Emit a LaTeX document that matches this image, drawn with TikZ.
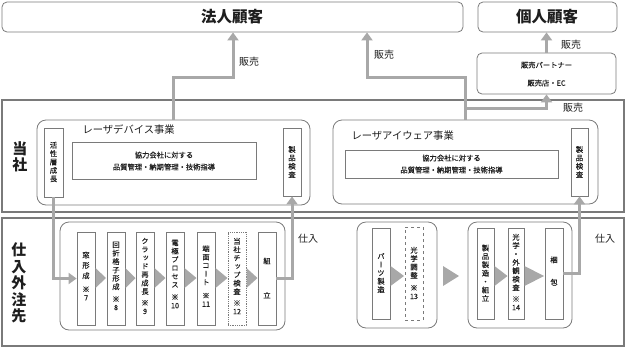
\documentclass[tikz,border=0pt]{standalone}
\usepackage{fontspec}
\setmainfont{Noto Sans CJK JP}
\newfontfamily\vjp[RawFeature=+vert, FakeBold=0.35]{Noto Sans CJK JP}
\newfontfamily\hjp[FakeBold=0.35]{Noto Sans CJK JP}
\usetikzlibrary{arrows.meta,fit}
\definecolor{bord}{HTML}{7A7A7A}
\definecolor{arr}{HTML}{A8A8A8}
\definecolor{ink}{HTML}{1E1E1E}
\newcommand\vsm{\vjp\fontsize{7.3}{8.4}\selectfont}
\newcommand\tri[3]{\fill[arr] (#1,#3-10) -- (#2,#3) -- (#1,#3+10) -- cycle;}
\tikzset{
  bigbox/.style={draw=bord, line width=1.1pt, inner sep=0pt},
  rbox/.style={draw=bord, line width=0.8pt, rounded corners=9pt, inner sep=0pt},
  cbox/.style={draw=bord, line width=0.8pt, rounded corners=5pt, inner sep=0pt},
  stepbox/.style={draw=bord, line width=0.8pt, inner sep=0pt},
  vtext/.style={font=\vsm, text=ink, align=center},
  plainbox/.style={draw=bord, line width=0.8pt, inner sep=0pt},
  smalltext/.style={font=\hjp\fontsize{7.3}{12}\selectfont, text=ink, align=center},
  flow/.style={draw=arr, line width=3pt, -{Triangle[length=8pt,width=11pt]}},
  title/.style={font=\bfseries\fontsize{15.5}{17}\selectfont, text=ink},
  sidelab/.style={font=\bfseries\fontsize{15}{16.5}\selectfont, text=ink, align=center},
  lab/.style={font=\fontsize{10}{12}\selectfont, text=ink},
  bizlab/.style={font=\fontsize{10.3}{12}\selectfont, text=ink, anchor=west},
}
\begin{document}
\begin{tikzpicture}[x=1pt,y=-1pt]
\useasboundingbox (0,0) rectangle (627,349);
% customers
\node[cbox, fit={(2,2) (463,32)}] (hojin) {};
\node[title] (hojint) at (232,17) {法人顧客};
\node[cbox, fit={(478,2) (617,32)}] (kojin) {};
\node[title] (kojint) at (547,17) {個人顧客};
\node[cbox, fit={(477,53) (616,94)}] (partner) {};
\node[smalltext] (pt1) at (546.5,65) {販売パートナー};
\node[smalltext] (pt2) at (546.5,83) {販売店・EC};
% company
\node[bigbox, fit={(2,100) (624,212)}] (tosha) {};
\node[sidelab] (toshat) at (20,157) {当\\社};
\node[rbox, fit={(37,120) (310,205)}] (ld) {};
\node[bizlab] (ldt) at (79,130) {レーザデバイス事業};
\node[stepbox, fit={(44,128) (63,197)}] (kasse) {};
\node[vtext] (kasset) at (53.5,162) {活\\性\\層\\成\\長};
\node[plainbox, fit={(72,142) (256,179)}] (ldin) {};
\node[smalltext] (ldint) at (164,161) {協力会社に対する\\品質管理・納期管理・技術指導};
\node[stepbox, fit={(283,128) (301,196)}] (kensa1) {};
\node[vtext] (kensa1t) at (292,162) {製\\品\\検\\査};
\node[rbox, fit={(333,120) (598,204)}] (ed) {};
\node[bizlab] (edt) at (348,136) {レーザアイウェア事業};
\node[plainbox, fit={(345,150) (558,178)}] (edin) {};
\node[smalltext] (edint) at (451.5,164) {協力会社に対する\\品質管理・納期管理・技術指導};
\node[stepbox, fit={(571,128) (588,196)}] (kensa2) {};
\node[vtext] (kensa2t) at (579.5,162) {製\\品\\検\\査};
% suppliers
\node[bigbox, fit={(2,218) (624,346)}] (shiire) {};
\node[sidelab] (shiiret) at (19,283) {仕\\入\\外\\注\\先};
\node[rbox, fit={(60,222) (285,330)}] (sl) {};
\node[stepbox, fit={(77,232) (95,325)}] (s1) {};
\node[vtext] (s1t) at (86,276) {窓\\[2pt]形\\[2pt]成\\[5pt]※\\7};
\node[stepbox, fit={(107,232) (125,325)}] (s2) {};
\node[vtext] (s2t) at (116,276) {回\\折\\格\\子\\形\\成\\[4pt]※\\8};
\node[stepbox, fit={(136,232) (154,325)}] (s3) {};
\node[vtext] (s3t) at (145,276) {ク\\ラ\\ッ\\ド\\再\\成\\長\\[3pt]※\\9};
\node[stepbox, fit={(166,232) (184,325)}] (s4) {};
\node[vtext] (s4t) at (175,274) {電\\極\\プ\\ロ\\セ\\ス\\[4pt]※\\10};
\node[stepbox, fit={(197,232) (215,325)}] (s5) {};
\node[vtext] (s5t) at (206,276) {端\\面\\コ\\ー\\ト\\[5pt]※\\11};
\node[stepbox, densely dotted, fit={(228,232) (246,325)}] (s6) {};
\node[vtext] (s6t) at (237,276) {当\\社\\チ\\ッ\\プ\\検\\査\\[3pt]※\\12};
\node[stepbox, fit={(258,232) (276,325)}] (s7) {};
\node[vtext] (s7t) at (267,278) {組\\[26pt]立};
\tri{95.5}{106}{278}
\tri{125.5}{135.5}{278}
\tri{154.5}{165.5}{278}
\tri{184.5}{196.5}{278}
\tri{215.5}{227.5}{278}
\tri{246.5}{257.5}{278}
% eyewear suppliers
\node[rbox, fit={(357,222) (437,328)}] (e1) {};
\node[stepbox, fit={(372,228) (390,319)}] (p1) {};
\node[vtext] (p1t) at (381,273) {パ\\ー\\ツ\\製\\造};
\node[stepbox, dashed, fit={(405,227) (423,320)}] (p2) {};
\node[vtext] (p2t) at (414,273) {光\\学\\調\\整\\[4pt]※\\13};
\tri{390.5}{404}{276}
\tri{443}{459}{276}
\node[rbox, fit={(468,222) (572,328)}] (e2) {};
\node[stepbox, fit={(477,228) (494,319)}] (k1) {};
\node[vtext] (k1t) at (485.5,273) {製\\品\\製\\造\\・\\組\\立};
\node[stepbox, fit={(508,228) (524,319)}] (k2) {};
\node[vtext] (k2t) at (516,272) {光\\学\\・\\外\\観\\検\\査\\[3pt]※\\14};
\node[stepbox, fit={(545,228) (563,319)}] (k3) {};
\node[vtext] (k3t) at (554,271) {梱\\[14pt]包};
\tri{494.5}{507.5}{276}
\tri{524.5}{544}{276}
% connectors
\coordinate (j1) at (233,77);
\coordinate (j2) at (367,77);
\coordinate (b1) at (465.5,108);
\draw[flow] (ld.north) |- (j1) -- (j1 |- hojin.south);
\draw[flow] (ed.north) |- (j2) -- (j2 |- hojin.south);
\draw[flow] (b1) -| (partner.south);
\draw[flow] (partner.north) -- (partner.north |- kojin.south);
\draw[flow] (kasse.south) |- (s1.west);
\draw[flow] (s7.east) -| (kensa1.south);
\draw[flow] (k3.east) -| (kensa2.south);
% labels
\node[lab] (l1) at (249,62) {販売};
\node[lab] (l2) at (384,55) {販売};
\node[lab] (l3) at (571,45) {販売};
\node[lab] (l4) at (573,108) {販売};
\node[lab] (l5) at (308,239) {仕入};
\node[lab] (l6) at (605,239) {仕入};
\end{tikzpicture}
\end{document}
